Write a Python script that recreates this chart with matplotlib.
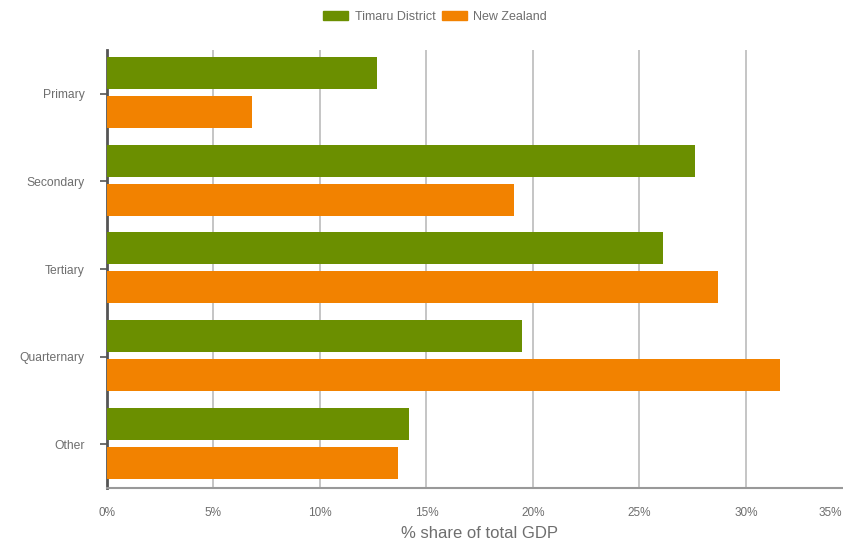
import numpy as np
import matplotlib.pyplot as plt
from matplotlib.patches import Patch

plt.rcParams['font.family'] = ['Liberation Sans', 'DejaVu Sans']

sectors = ['Primary', 'Secondary', 'Tertiary', 'Quarternary', 'Other']
timaru = [12.7, 27.6, 26.1, 19.5, 14.2]
nz = [6.8, 19.1, 28.7, 31.6, 13.65]
xticks = [0, 5, 10, 15, 20, 25, 30, 35]

green = '#6b8f00'
orange = '#f28200'
grey_txt = '#6e6e6e'

fig = plt.figure(figsize=(8.43, 5.40), dpi=100)
# axes run past the right edge so the 35% line falls outside the frame
ax = fig.add_axes([0.1269, 0.0963, 0.8843, 0.8111])

y = np.arange(len(sectors))
h = 0.365
ax.barh(y - 0.235, timaru, height=h, color=green, zorder=3)
ax.barh(y + 0.21, nz, height=h, color=orange, zorder=3)

ax.set_xlim(0, 35)
ax.set_ylim(len(sectors) - 0.5, -0.5)
ax.set_xticks(xticks)
# last label is pulled back inside the figure below
ax.set_xticklabels([f'{t}%' for t in xticks[:-1]] + [''])
ax.set_yticks(y)
ax.set_yticklabels(sectors)

ax.xaxis.grid(True, color='#b5b5b5', linewidth=1.1, zorder=0)
ax.tick_params(axis='x', length=0, pad=13.5, labelsize=8.5, labelcolor=grey_txt)
ax.tick_params(axis='y', length=5, width=1.2, color='#555555', pad=11,
               labelsize=8.7, labelcolor=grey_txt)

ax.annotate(f'{xticks[-1]}%', xy=(xticks[-1], 0),
            xycoords=('data', 'axes fraction'), xytext=(-7.5, -13.5),
            textcoords='offset points', ha='right', va='top',
            fontsize=8.5, color=grey_txt, annotation_clip=False)

for s in ['top', 'right']:
    ax.spines[s].set_visible(False)
ax.spines['left'].set_color('#555555')
ax.spines['left'].set_linewidth(2)
ax.spines['bottom'].set_color('#999999')
ax.spines['bottom'].set_linewidth(1.5)

ax.set_xlabel('% share of total GDP', fontsize=12, color=grey_txt, labelpad=5)

handles = [Patch(color=green), Patch(color=orange)]
fig.legend(handles, ['Timaru District', 'New Zealand'], loc='center',
           bbox_to_anchor=(0.516, 1 - 17 / 540), ncol=2, frameon=False,
           fontsize=9, labelcolor=grey_txt, handlelength=2.0,
           handleheight=0.75, handletextpad=0.5, columnspacing=0.5)

fig.savefig('out.png', dpi=100)
